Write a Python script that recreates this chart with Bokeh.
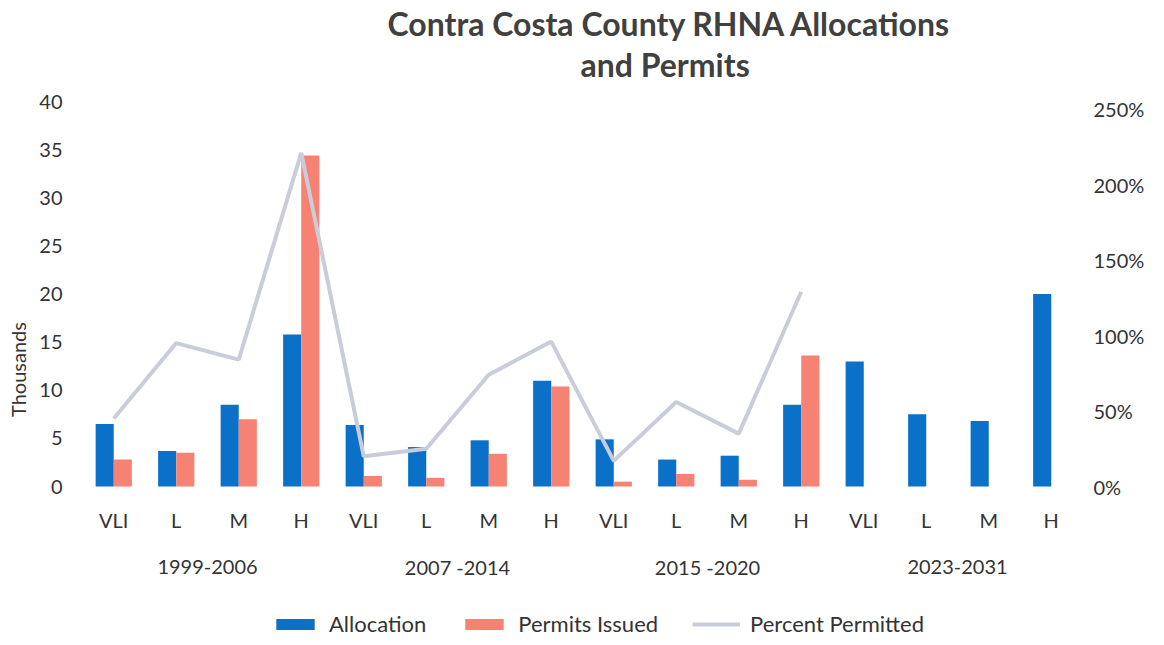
from bokeh.plotting import figure
from bokeh.models import Range1d, LinearAxis, FixedTicker, Legend, LegendItem, Title, PrintfTickFormatter
from bokeh.core.properties import value
from bokeh.embed import file_html
from bokeh.resources import INLINE

periods = ["1999-2006", "2007 -2014", "2015 -2020", "2023-2031"]
income = ["VLI", "L", "M", "H"]
categories = [c for _ in periods for c in income]

# thousands of units
allocation = [6.5, 3.7, 8.5, 15.8, 6.4, 4.1, 4.8, 11.0, 4.9, 2.8, 3.2, 8.5, 13.0, 7.5, 6.8, 20.0]
permits = [2.8, 3.5, 7.0, 34.4, 1.1, 0.9, 3.4, 10.4, 0.5, 1.3, 0.7, 13.6]
percent_permitted = [45, 95, 84, 221, 20, 25, 74, 96, 17, 56, 35, 129]

BLUE = "#0b70c7"
SALMON = "#f58272"
LINEC = "#c9cdd9"
TXT = "#333333"
FONT = "Lato"

# layout (pixels)
W, H = 1156, 637
LEFT, RIGHT = 82, 74
TOP = 101          # frame top (value 40)
ZERO = 486         # pixel row of value 0
PLOT_PX = ZERO - TOP
BELOW_PX = H - ZERO
YMAX, PMAX = 40, 255
y_start = -YMAX * BELOW_PX / PLOT_PX
p_start = -PMAX * BELOW_PX / PLOT_PX
px_unit = PLOT_PX / YMAX

xs = list(range(len(categories)))
xs_p = list(range(len(permits)))

p = figure(width=W, height=H, output_backend="svg", toolbar_location=None,
           x_range=Range1d(-0.5, len(categories) - 0.5), y_range=Range1d(y_start, YMAX),
           min_border_left=LEFT, min_border_right=RIGHT, min_border_top=TOP, min_border_bottom=0)
p.outline_line_color = None
p.xgrid.visible = False
p.ygrid.visible = False
p.xaxis.visible = False

p.extra_y_ranges = {"pct": Range1d(p_start, PMAX)}

bw = 0.29
r_alloc = p.vbar(x=[x - bw / 2 for x in xs], top=allocation, width=bw, color=BLUE, line_color=None)
r_perm = p.vbar(x=[x + bw / 2 for x in xs_p], top=permits, width=bw, color=SALMON, line_color=None)
r_line = p.line(x=xs_p, y=percent_permitted, y_range_name="pct", line_width=4, line_color=LINEC)

# left axis
ya = p.yaxis[0]
ya.ticker = FixedTicker(ticks=[0, 5, 10, 15, 20, 25, 30, 35, 40])
ya.bounds = (0, 43)
ya.axis_label = "Thousands"
ya.axis_line_color = None
ya.major_tick_line_color = None
ya.minor_tick_line_color = None
ya.major_label_standoff = 14
ya.axis_label_standoff = 6
ya.major_label_text_font = FONT
ya.major_label_text_font_size = "20px"
ya.major_label_text_color = TXT
ya.axis_label_text_font = FONT
ya.axis_label_text_font_size = "20px"
ya.axis_label_text_font_style = "normal"
ya.axis_label_text_color = TXT

# right axis
ra = LinearAxis(y_range_name="pct", ticker=FixedTicker(ticks=[0, 50, 100, 150, 200, 250]),
                formatter=PrintfTickFormatter(format="%d%%"), bounds=(0, 250))
ra.axis_line_color = None
ra.major_tick_line_color = None
ra.minor_tick_line_color = None
ra.major_label_standoff = 5
ra.major_label_text_font = FONT
ra.major_label_text_font_size = "20px"
ra.major_label_text_color = TXT
p.add_layout(ra, "right")

# category and period labels under the bars
cat_y = -(519 - ZERO) / px_unit
per_y = -(566 - ZERO) / px_unit
p.text(x=xs, y=[cat_y] * len(xs), text=categories, text_align="center", text_baseline="middle",
       text_font=value(FONT), text_font_size="20px", text_color=TXT)
p.text(x=[1.5, 5.5, 9.5, 13.5], y=[per_y] * len(periods), text=periods, text_align="center",
       text_baseline="middle", text_font=value(FONT), text_font_size="20px", text_color=TXT)

# title (two lines); closest to the frame is added first
t2 = Title(text="and Permits", align="left", offset=498, vertical_align="middle", standoff=33,
           text_font=FONT, text_font_size="32px", text_font_style="bold", text_color="#404040")
t1 = Title(text="Contra Costa County RHNA Allocations", align="left", offset=305, vertical_align="middle",
           standoff=-33, text_font=FONT, text_font_size="32px", text_font_style="bold", text_color="#404040")
p.add_layout(t2, "above")
p.add_layout(t1, "above")

legend = Legend(items=[LegendItem(label="Allocation", renderers=[r_alloc]),
                       LegendItem(label="Permits Issued", renderers=[r_perm]),
                       LegendItem(label="Percent Permitted", renderers=[r_line])],
                orientation="horizontal", location=(189, 0),
                glyph_width=48, glyph_height=14, label_standoff=10, spacing=34,
                padding=0, margin=0, border_line_color=None, background_fill_alpha=0,
                label_text_font=FONT, label_text_font_size="22px", label_text_color=TXT)
p.add_layout(legend)

open("out.html", "w").write(file_html(p, INLINE))
